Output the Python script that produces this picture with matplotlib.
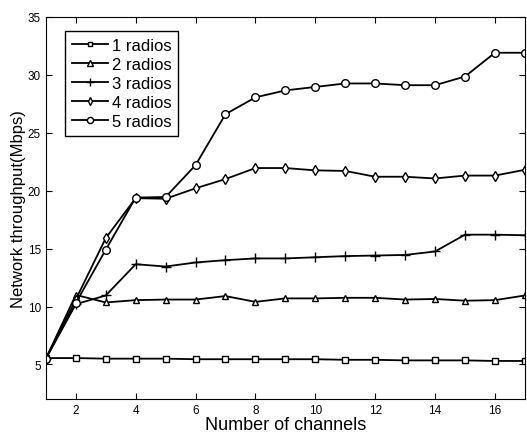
import numpy as np
import matplotlib
matplotlib.use('Agg')
import matplotlib.pyplot as plt

plt.rcParams['font.family'] = ['Liberation Sans', 'DejaVu Sans']

# number of channels
channels = list(range(1, 18))

# throughput (Mbps)
radios_1 = [5.55, 5.55, 5.5, 5.5, 5.5, 5.45, 5.45, 5.45, 5.45, 5.45, 5.4, 5.4, 5.35, 5.35, 5.35, 5.3, 5.3]
radios_2 = [5.5, 11.0, 10.35, 10.55, 10.6, 10.6, 10.9, 10.4, 10.7, 10.7, 10.75, 10.75, 10.6, 10.65, 10.5, 10.55, 10.95]
radios_3 = [5.5, 10.2, 10.95, 13.65, 13.45, 13.8, 14.0, 14.15, 14.15, 14.25, 14.35, 14.4, 14.45, 14.75, 16.2, 16.2, 16.15]
radios_4 = [5.5, 10.6, 15.9, 19.35, 19.3, 20.2, 21.0, 21.95, 21.95, 21.75, 21.7, 21.2, 21.2, 21.05, 21.3, 21.3, 21.8]
radios_5 = [5.5, 10.3, 14.9, 19.4, 19.45, 22.2, 26.6, 28.05, 28.65, 28.95, 29.25, 29.25, 29.1, 29.1, 29.85, 31.9, 31.9]

series = [radios_1, radios_2, radios_3, radios_4, radios_5]
labels = ['1 radios', '2 radios', '3 radios', '4 radios', '5 radios']
markers = ['s', '^', '+', 'd', 'o']
msizes = [4, 5, 6.5, 5, 5.5]

fig = plt.figure(figsize=(5.27, 4.35), dpi=100)
ax = fig.add_axes([0.087, 0.080, 0.909, 0.879])

for vals, lab, m, s in zip(series, labels, markers, msizes):
    ax.plot(channels, vals, color='black', lw=1.3, marker=m, ms=s,
            mfc='white', mec='black', mew=1.0, label=lab)

ax.set_xlim(1, 17)
ax.set_ylim(2, 35)
ax.set_xticks(range(2, 17, 2))
ax.set_yticks(range(5, 36, 5))
ax.tick_params(direction='in', top=True, right=True, labelsize=8.5, length=4)
ax.set_xlabel('Number of channels', fontsize=13, labelpad=0)
ax.set_ylabel('Network throughput(Mbps)', fontsize=12, labelpad=1)

leg = ax.legend(loc='upper left', bbox_to_anchor=(0.04, 0.963), borderaxespad=0,
                fancybox=False, edgecolor='black', framealpha=1, fontsize=12,
                handlelength=2.2, handletextpad=0.2, labelspacing=0.25,
                borderpad=0.4, markerscale=0.8)
leg.get_frame().set_linewidth(1.0)

fig.savefig('out.png', dpi=100)
